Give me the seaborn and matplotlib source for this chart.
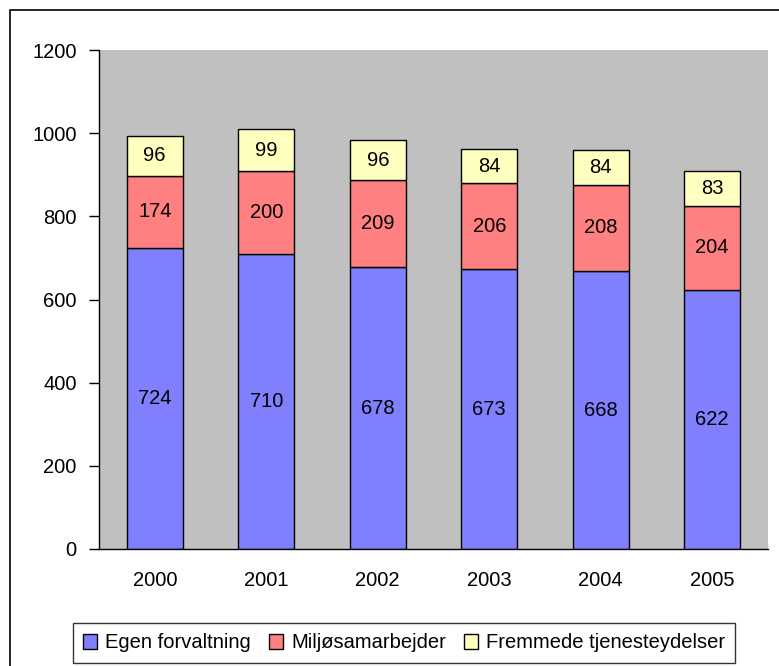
import numpy as np
import pandas as pd
import matplotlib
matplotlib.use("Agg")
import matplotlib.pyplot as plt
import seaborn as sns
from matplotlib.patches import Rectangle

sns.set_style("white")
plt.rcParams["font.family"] = ["Liberation Sans", "DejaVu Sans"]
plt.rcParams["text.color"] = "black"
plt.rcParams["xtick.color"] = "black"
plt.rcParams["ytick.color"] = "black"

years = ["2000", "2001", "2002", "2003", "2004", "2005"]
egen = [724, 710, 678, 673, 668, 622]
miljo = [174, 200, 209, 206, 208, 204]
fremmede = [96, 99, 96, 84, 84, 83]

series = ["Egen forvaltning", "Miljøsamarbejder", "Fremmede tjenesteydelser"]
colors = ["#8080FF", "#FF8080", "#FFFFC0"]

df = pd.DataFrame({"year": years, series[0]: egen, series[1]: miljo, series[2]: fremmede})

fig = plt.figure(figsize=(7.79, 6.66), dpi=100)
# outer chart border (runs off the right and bottom edges)
fig.patches.append(Rectangle((10 / 779, -0.05), 1.0, 1 - 10 / 666 + 0.05, transform=fig.transFigure,
                             fill=False, edgecolor="black", linewidth=1.2))
ax = fig.add_axes([99 / 779, 117 / 666, 669 / 779, 499 / 666])
ax.set_facecolor("#C0C0C0")

bottom = np.zeros(len(years))
for name, col in zip(series, colors):
    vals = df[name].to_numpy()
    sns.barplot(x="year", y=name, data=df, color=col, bottom=bottom, width=0.5,
                edgecolor="black", linewidth=1, saturation=1, ax=ax, label=name)
    for i, v in enumerate(vals):
        ax.text(i, bottom[i] + v / 2, str(v), ha="center", va="center", fontsize=14.5, color="black")
    bottom = bottom + vals

ax.set_ylim(0, 1200)
ax.set_xlim(-0.5, len(years) - 0.5)
ax.set_yticks(range(0, 1201, 200))
ax.set_xticks(np.arange(-0.5, len(years), 1.0), minor=True)
ax.tick_params(axis="x", which="major", length=0, pad=16, labelsize=14.5)
ax.tick_params(axis="x", which="minor", length=10, direction="inout", width=1, color="black")
ax.tick_params(axis="y", length=7, direction="out", width=1, color="black", labelsize=14.5, left=True, pad=9)
ax.set_xlabel("")
ax.set_ylabel("")
for s in ["top", "right"]:
    ax.spines[s].set_visible(False)
for s in ["left", "bottom"]:
    ax.spines[s].set_color("black")
    ax.spines[s].set_linewidth(1)

handles, labels = ax.get_legend_handles_labels()
if ax.get_legend():
    ax.get_legend().remove()
leg = fig.legend(handles, labels, loc="center", bbox_to_anchor=(404 / 779, 1 - 643 / 666), ncol=3,
                 frameon=True, fancybox=False, edgecolor="black", fontsize=14.5, handlelength=0.7,
                 handleheight=0.7, handletextpad=0.4, columnspacing=0.9, borderpad=0.5)
leg.get_frame().set_linewidth(1)

fig.savefig("out.png", dpi=100)
